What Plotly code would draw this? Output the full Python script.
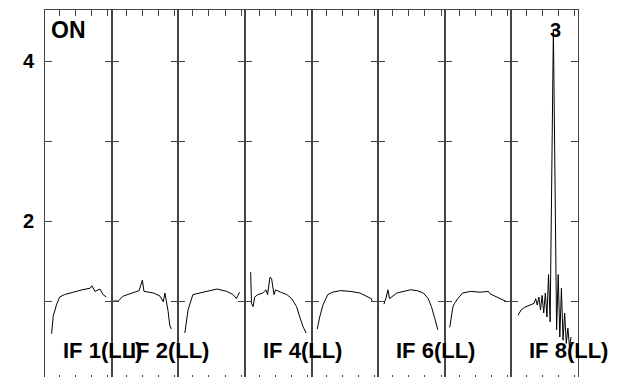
import plotly.graph_objects as go
from plotly.subplots import make_subplots

# spectra per IF: channel number and amplitude
chan_if1 = [5, 6, 8, 10, 13, 18, 24, 29, 30, 32, 34, 35, 37, 39]
amp_if1 = [0.59, 0.81, 0.95, 1.05, 1.08, 1.11, 1.14, 1.16, 1.19, 1.12, 1.14, 1.15, 1.08, 1.05]

chan_if2 = [2, 5, 8, 14, 18, 20, 21, 27, 31, 33, 34, 36, 37, 38]
amp_if2 = [1.0, 1.0, 1.06, 1.1, 1.13, 1.26, 1.12, 1.1, 1.06, 0.99, 1.1, 0.87, 0.7, 0.65]

chan_if3 = [5, 7, 10, 16, 25, 31, 35, 37, 38, 39]
amp_if3 = [0.6, 0.89, 1.08, 1.11, 1.15, 1.12, 1.08, 1.03, 1.08, 1.11]

chan_if4 = [4.5, 5, 6, 7, 9, 12, 14, 15, 16.5, 17.5, 19, 20, 23, 27, 30, 33, 35, 37, 39]
amp_if4 = [1.36, 0.97, 0.93, 1.05, 1.08, 1.1, 1.14, 1.08, 1.3, 1.28, 1.08, 1.14, 1.11, 1.08, 1.03, 0.93, 0.8, 0.68, 0.6]

chan_if5 = [4.5, 6, 8, 11, 14, 19, 25, 31, 36, 38, 38.5]
amp_if5 = [0.65, 0.8, 0.95, 1.08, 1.11, 1.13, 1.12, 1.1, 1.05, 1.03, 1.0]

chan_if6 = [4.5, 6, 7, 8, 12.5, 16.5, 21, 25, 29, 32, 34, 36, 38]
amp_if6 = [0.96, 1.05, 1.14, 1.03, 1.1, 1.12, 1.14, 1.13, 1.1, 1.03, 0.93, 0.79, 0.64]

chan_if7 = [4, 6, 7, 9, 12, 17, 23, 28, 29, 33, 37, 39.5]
amp_if7 = [0.67, 0.93, 0.97, 1.03, 1.1, 1.12, 1.11, 1.12, 1.09, 1.05, 1.01, 0.99]

chan_if8 = [5, 7, 9, 11, 13, 15, 16, 17, 18, 19, 20, 21, 22, 23, 24, 25, 27, 29,
            30, 31, 32, 33, 34, 35, 36, 37, 38]
amp_if8 = [0.82, 0.89, 0.92, 0.94, 0.95, 0.97, 1.03, 0.95, 1.05, 0.89, 1.07, 0.85,
           1.1, 0.8, 1.33, 0.74, 4.4, 0.64, 1.33, 0.55, 1.16, 0.51, 0.85, 0.47,
           0.66, 0.43, 0.55]

channels = [chan_if1, chan_if2, chan_if3, chan_if4, chan_if5, chan_if6, chan_if7, chan_if8]
amps = [amp_if1, amp_if2, amp_if3, amp_if4, amp_if5, amp_if6, amp_if7, amp_if8]
if_labels = ["IF 1(LL)", "IF 2(LL)", None, "IF 4(LL)", None, "IF 6(LL)", None, "IF 8(LL)"]

y_ticks = [0, 1, 2, 3, 4]
y_ticktext = ["0", "", "2", "", "4"]
x_ticks = [10, 20, 30, 40]

FONT = "Liberation Sans, Arial, sans-serif"

fig = make_subplots(rows=1, cols=8, shared_yaxes=True, horizontal_spacing=0)

for i in range(8):
    fig.add_trace(go.Scatter(
        x=channels[i], y=amps[i], mode="lines",
        line=dict(color="black", width=1),
        showlegend=False, hoverinfo="skip",
    ), row=1, col=i + 1)
    if if_labels[i]:
        fig.add_annotation(
            text="<b>%s</b>" % if_labels[i], x=10.8, y=0.38,
            xref="x%s" % ("" if i == 0 else i + 1), yref="y",
            xanchor="left", yanchor="middle", showarrow=False,
            font=dict(family=FONT, size=22, color="black"),
        )

fig.update_xaxes(
    range=[0.9, 42.3], tickvals=x_ticks, ticks="inside", ticklen=6,
    tickcolor="#444", showticklabels=False, showline=True, mirror="ticks",
    linecolor="#444", linewidth=1, showgrid=False, zeroline=False,
)
fig.update_yaxes(
    range=[0, 4.6375], tickvals=y_ticks, ticktext=y_ticktext,
    ticks="inside", ticklen=7, tickcolor="#444", showline=True, mirror="ticks",
    linecolor="#444", linewidth=1, showgrid=False, zeroline=False,
    tickfont=dict(family=FONT, size=20, color="black", weight="bold"),
    ticklabelstandoff=6,
)

fig.add_annotation(text="<b>ON</b>", xref="paper", x=0, xanchor="left", xshift=4,
                   yref="y", y=4.39, yanchor="middle", showarrow=False,
                   font=dict(family=FONT, size=23, color="black"))
fig.add_annotation(text="<b>3</b>", xref="x8", x=28.6, xanchor="center",
                   yref="y", y=4.39, yanchor="middle", showarrow=False,
                   font=dict(family=FONT, size=20, color="black"))

fig.update_layout(
    width=618, height=377,
    margin=dict(l=37, r=48, t=2, b=4),
    paper_bgcolor="white", plot_bgcolor="white",
)

fig.write_html("out.html")
